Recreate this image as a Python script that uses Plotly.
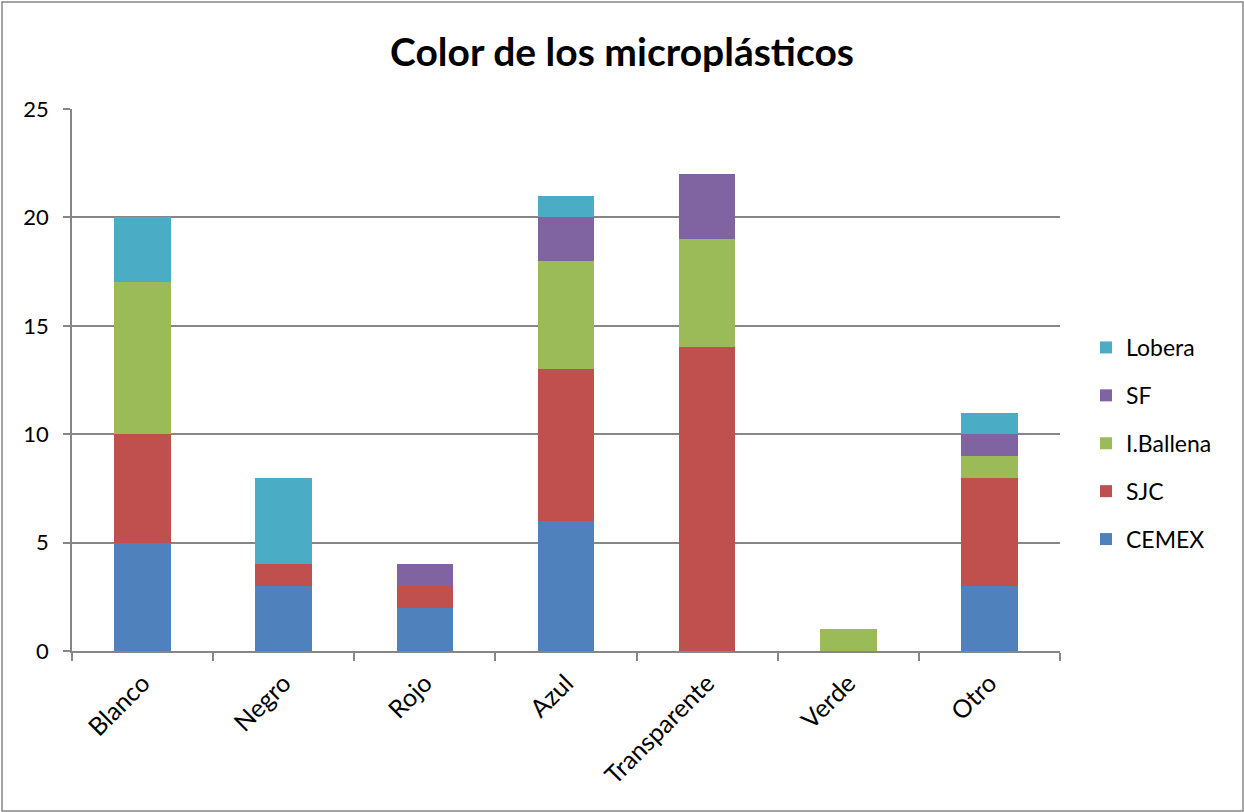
import plotly.graph_objects as go

categories = ["Blanco", "Negro", "Rojo", "Azul", "Transparente", "Verde", "Otro"]
series_names = ["CEMEX", "SJC", "I.Ballena", "SF", "Lobera"]
cemex = [5, 3, 2, 6, 0, 0, 3]
sjc = [5, 1, 1, 7, 14, 0, 5]
iballena = [7, 0, 0, 5, 5, 1, 1]
sf = [0, 0, 1, 2, 3, 0, 1]
lobera = [3, 4, 0, 1, 0, 0, 1]
y_ticks = [0, 5, 10, 15, 20, 25]

colors = ["#4F81BD", "#C0504D", "#9BBB59", "#8064A2", "#4BACC6"]
values = [cemex, sjc, iballena, sf, lobera]

FONT = "Lato, 'Liberation Sans', sans-serif"
W, H = 1244, 812
L, R, T, B = 72, 184, 109, 161
pw, ph = W - L - R, H - T - B

fig = go.Figure()
n = len(series_names)
for i, (name, vals, col) in enumerate(zip(series_names, values, colors)):
    fig.add_trace(go.Bar(
        x=categories, y=vals, name=name, legendgroup=name, legendrank=n - i,
        marker=dict(color=col, line=dict(width=0)),
    ))

fig.update_layout(
    width=W, height=H,
    barmode="stack", bargap=0.6,
    plot_bgcolor="white", paper_bgcolor="white",
    margin=dict(l=L, r=R, t=T, b=B),
    font=dict(family=FONT, size=22, color="black"),
    title=dict(text="<b>Color de los microplásticos</b>", x=0.5, xanchor="center",
               y=1 - 52 / H, yanchor="middle", yref="container",
               font=dict(family=FONT, size=39, color="black")),
    showlegend=True,
    legend=dict(x=(1086 - L) / pw, xanchor="left", y=1 - (326 - T) / ph, yanchor="top",
                traceorder="grouped", tracegroupgap=15,
                font=dict(family=FONT, size=23, color="black"), bgcolor="rgba(0,0,0,0)"),
    xaxis=dict(showline=True, linecolor="#868686", linewidth=1.5,
               ticks="outside", tickson="boundaries", ticklen=8, tickcolor="#868686",
               tickwidth=1.5, tickangle=-45, showgrid=False, ticklabelstandoff=6,
               tickfont=dict(family=FONT, size=25, color="black")),
    yaxis=dict(range=[0, 25], tickvals=y_ticks, showline=True, linecolor="#868686",
               linewidth=1.5, ticks="outside", ticklen=7, tickcolor="#868686", tickwidth=1.5,
               showgrid=True, gridcolor="#868686", gridwidth=1.5, zeroline=False,
               ticklabelstandoff=10,
               tickfont=dict(family=FONT, size=22, color="black")),
    shapes=[dict(type="rect", xref="paper", yref="paper",
                 x0=(2 - L) / pw, x1=(1243 - L) / pw,
                 y0=(T + ph - 811) / ph, y1=(T + ph - 2) / ph,
                 line=dict(color="#868686", width=1.5), fillcolor="rgba(0,0,0,0)", layer="below")],
)

fig.write_html("out.html")
